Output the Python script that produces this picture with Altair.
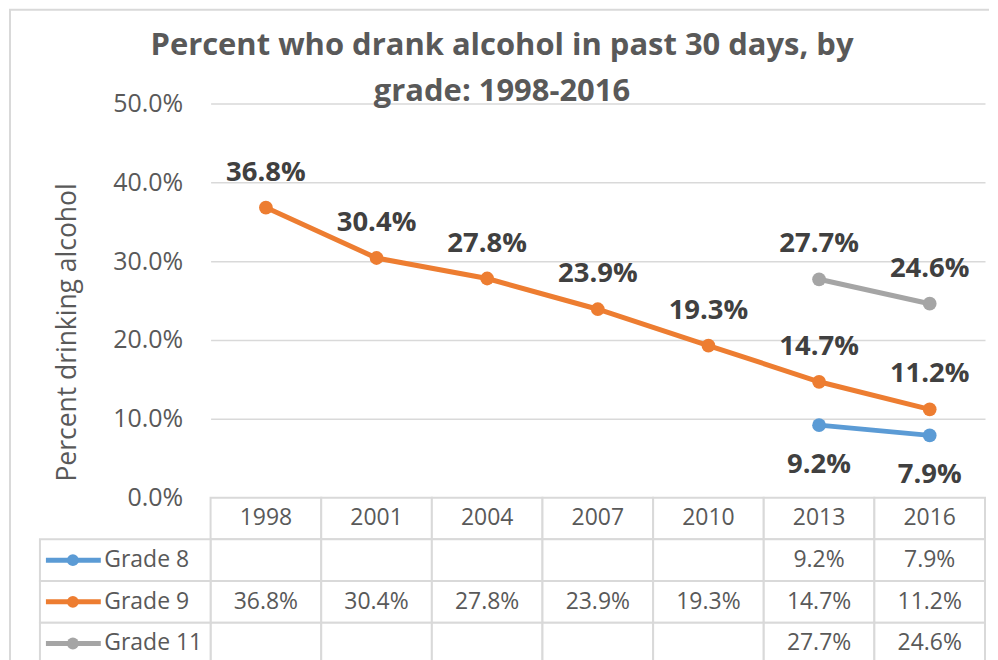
import altair as alt
import pandas as pd

years = ["1998", "2001", "2004", "2007", "2010", "2013", "2016"]
grades = ["Grade 8", "Grade 9", "Grade 11"]
grade8 = [None, None, None, None, None, 9.2, 7.9]
grade9 = [36.8, 30.4, 27.8, 23.9, 19.3, 14.7, 11.2]
grade11 = [None, None, None, None, None, 27.7, 24.6]
colors = ["#5B9BD5", "#ED7D31", "#A5A5A5"]
y_ticks = [0, 10, 20, 30, 40, 50]
title_lines = ["Percent who drank alcohol in past 30 days, by", "grade: 1998-2016"]
y_title = "Percent drinking alcohol"

FONT = "Open Sans"
series = {"Grade 8": grade8, "Grade 9": grade9, "Grade 11": grade11}

rows = []
for g in grades:
    for yr, v in zip(years, series[g]):
        if v is not None:
            rows.append({"year": yr, "grade": g, "value": v, "label": f"{v:.1f}%"})
df = pd.DataFrame(rows)

W, H = 776, 395
TH = 167

color_scale = alt.Scale(domain=grades, range=colors)
x_main = alt.X("year:O", scale=alt.Scale(type="point", domain=years, padding=0.5), axis=None)
y_main = alt.Y(
    "value:Q",
    scale=alt.Scale(domain=[0, 50], nice=False),
    axis=alt.Axis(
        values=y_ticks,
        labelExpr="format(datum.value, '.1f') + '%'",
        labelFontSize=25,
        labelFont=FONT,
        labelColor="#595959",
        labelPadding=28,
        ticks=False,
        tickSize=0,
        domain=False,
        gridColor="#D9D9D9",
        gridWidth=1.5,
        title=y_title,
        titleFont=FONT,
        titleFontSize=26.5,
        titleFontWeight="normal",
        titleColor="#595959",
        titleX=-143,
        titleY=229,
        titleBaseline="middle",
        titleAngle=270,
    ),
)

base = alt.Chart(df).encode(x=x_main, y=y_main,
                            color=alt.Color("grade:N", scale=color_scale, legend=None))
lines = base.mark_line(strokeWidth=5)
points = base.mark_point(filled=True, size=190, opacity=1)
lab_up = base.transform_filter("datum.grade != 'Grade 8'").mark_text(
    font=FONT, fontSize=27.5, fontWeight="bold", color="#404040", baseline="alphabetic", dy=-27
).encode(text="label:N", color=alt.value("#404040"))
lab_dn = base.transform_filter("datum.grade == 'Grade 8'").mark_text(
    font=FONT, fontSize=27.5, fontWeight="bold", color="#404040", baseline="alphabetic", dy=48
).encode(text="label:N", color=alt.value("#404040"))

main = alt.layer(lines, points, lab_up, lab_dn).properties(
    width=W, height=H,
    title=alt.Title(title_lines, font=FONT, fontSize=31, fontWeight="bold", color="#595959",
                    anchor="middle", dx=-96, dy=17, lineHeight=47, offset=0),
)

# data table
trows = []
for yr in years:
    trows.append({"year": yr, "row": "hdr", "text": yr})
for g in grades:
    for yr, v in zip(years, series[g]):
        trows.append({"year": yr, "row": g, "text": "" if v is None else f"{v:.1f}%"})
tdf = pd.DataFrame(trows)
row_domain = ["hdr"] + grades

x_tab = alt.X("year:O", scale=alt.Scale(type="band", domain=years, paddingInner=0, paddingOuter=0), axis=None)
y_tab_axis = alt.Axis(
    labelExpr="datum.value == 'hdr' ? '' : datum.value",
    labelAlign="left", labelPadding=107, ticks=False, tickSize=0, domain=False,
    labelFontSize=23, labelFont=FONT, labelColor="#595959", title=None, grid=False,
)
y_tab = alt.Y("row:N", scale=alt.Scale(domain=row_domain, paddingInner=0, paddingOuter=0), axis=y_tab_axis)

tbase = alt.Chart(tdf)
cells = tbase.mark_rect(fill="white", stroke="#D9D9D9", strokeWidth=2).encode(x=x_tab, y=y_tab)
ctext = tbase.mark_text(font=FONT, fontSize=23, color="#595959", baseline="middle").encode(
    x=alt.X("year:O", scale=alt.Scale(type="band", domain=years, paddingInner=0, paddingOuter=0), axis=None, bandPosition=0.5),
    y=alt.Y("row:N", scale=alt.Scale(domain=row_domain, paddingInner=0, paddingOuter=0), axis=y_tab_axis, bandPosition=0.5),
    text="text:N",
)
gdf = pd.DataFrame({"row": grades})
gbase = alt.Chart(gdf)
left_cells = gbase.mark_rect(fill="white", stroke="#D9D9D9", strokeWidth=2).encode(
    x=alt.value(-171), x2=alt.value(0), y=y_tab)
key_y = alt.Y("row:N", scale=alt.Scale(domain=row_domain, paddingInner=0, paddingOuter=0), axis=y_tab_axis, bandPosition=0.5)
key_color = alt.Color("row:N", scale=color_scale, legend=None)
key_line = gbase.mark_rule(strokeWidth=5).encode(x=alt.value(-165), x2=alt.value(-110), y=key_y, color=key_color)
key_pt = gbase.mark_point(filled=True, size=140, opacity=1).encode(x=alt.value(-138), y=key_y, color=key_color)

one = alt.Data(values=[{"a": 1}])
top_border = alt.Chart(one).mark_rule(color="#D9D9D9", strokeWidth=2).encode(
    x=alt.value(-202), x2=alt.value(780), y=alt.value(-489))
left_border = alt.Chart(one).mark_rule(color="#D9D9D9", strokeWidth=2).encode(
    x=alt.value(-201), y=alt.value(-489), y2=alt.value(TH))

table = alt.layer(top_border, left_border, cells, left_cells, ctext, key_line, key_pt).properties(width=W, height=TH)

chart = alt.vconcat(main, table, spacing=0, bounds="flush").properties(padding=0).configure_view(stroke=None)

chart.save("out.html", embed_options={"renderer": "svg", "actions": False})
